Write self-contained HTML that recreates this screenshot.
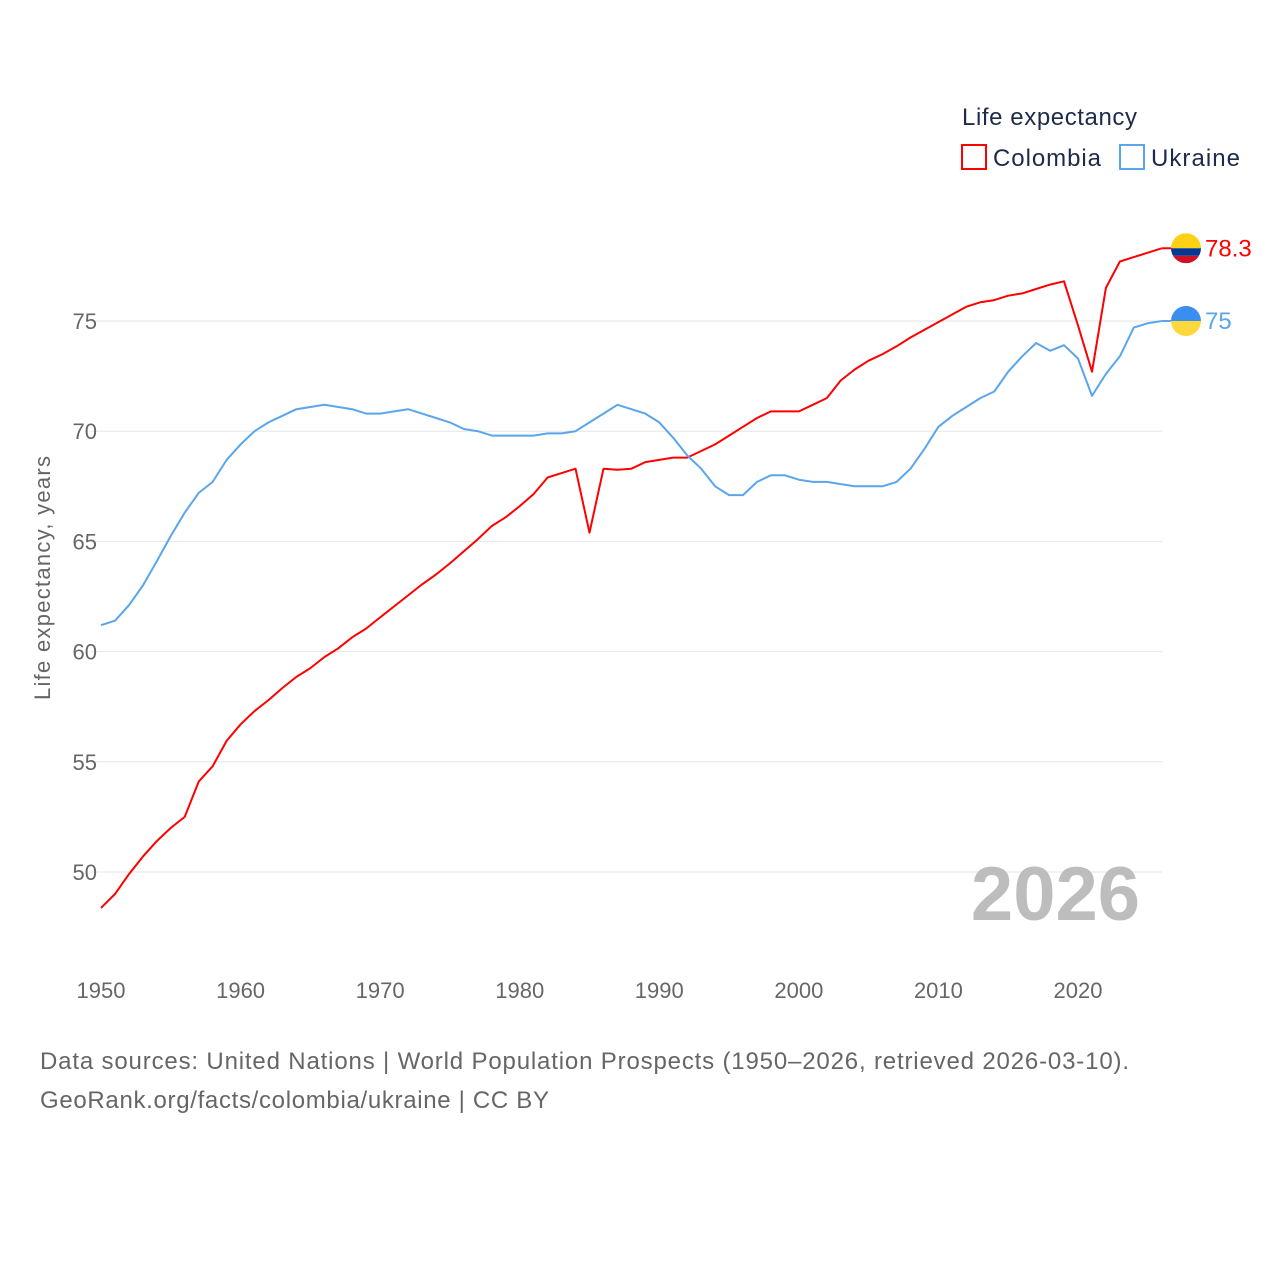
<!DOCTYPE html>
<html><head><meta charset="utf-8"><style>
body{margin:0;background:#fff;font-family:"Liberation Sans",sans-serif}
svg text{font-family:"Liberation Sans",sans-serif}
</style></head><body>
<svg id="chart" width="1280" height="1280" viewBox="0 0 1280 1280">
<g id="grid"></g>
<g id="yticks"></g>
<g id="xticks"></g>
<text x="50" y="578" transform="rotate(-90 50 578)" text-anchor="middle" font-size="22" fill="#666" textLength="244">Life expectancy, years</text>
<text x="1140" y="920" text-anchor="end" font-size="76" font-weight="bold" fill="#bdbdbd">2026</text>
<g>
<text x="962" y="125" font-size="24" fill="#1d2b4a" textLength="175">Life expectancy</text>
<g><rect x="962" y="145" width="24" height="24" fill="none" stroke="#ff0000" stroke-width="2"/><text x="993" y="166" font-size="24" fill="#1d2b4a" textLength="108">Colombia</text></g>
<g><rect x="1120" y="145" width="24" height="24" fill="none" stroke="#5aa5ec" stroke-width="2"/><text x="1151" y="166" font-size="24" fill="#1d2b4a" textLength="89">Ukraine</text></g>
</g>
<g id="series"></g>
<g id="ends"></g>
<text x="40" y="1069" font-size="24" fill="#666" textLength="1089">Data sources: United Nations | World Population Prospects (1950–2026, retrieved 2026-03-10).</text>
<text x="40" y="1108" font-size="24" fill="#666" textLength="509">GeoRank.org/facts/colombia/ukraine | CC BY</text>
</svg>
<script>
const years=[];for(let y=1950;y<=2026;y++)years.push(y);
const colombia=[48.37,49.0,49.9,50.7,51.4,52.0,52.5,54.1,54.8,55.95,56.7,57.3,57.8,58.35,58.85,59.25,59.75,60.15,60.65,61.05,61.55,62.05,62.55,63.05,63.5,64.0,64.55,65.1,65.7,66.1,66.6,67.15,67.9,68.1,68.3,65.4,68.3,68.25,68.3,68.6,68.7,68.8,68.8,69.1,69.4,69.8,70.2,70.6,70.9,70.9,70.9,71.2,71.5,72.3,72.8,73.2,73.5,73.85,74.25,74.6,74.95,75.3,75.65,75.85,75.95,76.15,76.25,76.45,76.65,76.8,74.8,72.7,76.5,77.7,77.9,78.1,78.3];
const ukraine=[61.2,61.4,62.1,63.0,64.1,65.25,66.3,67.2,67.7,68.7,69.4,70.0,70.4,70.7,71.0,71.1,71.2,71.1,71.0,70.8,70.8,70.9,71.0,70.8,70.6,70.4,70.1,70.0,69.8,69.8,69.8,69.8,69.9,69.9,70.0,70.4,70.8,71.2,71.0,70.8,70.4,69.7,68.9,68.3,67.5,67.1,67.1,67.7,68.0,68.0,67.8,67.7,67.7,67.6,67.5,67.5,67.5,67.7,68.3,69.2,70.2,70.7,71.1,71.5,71.8,72.7,73.4,74.0,73.65,73.9,73.3,71.6,72.6,73.4,74.7,74.9,75.0];
const yTicks=[50,55,60,65,70,75];
const xTicks=[1950,1960,1970,1980,1990,2000,2010,2020];
const endLabels=["78.3","75"];
const NS="http://www.w3.org/2000/svg";
const X=y=>101+(y-1950)*(977/70);
const Y=v=>321+(75-v)*22.04;
function el(t,a,p){const e=document.createElementNS(NS,t);for(const k in a)e.setAttribute(k,a[k]);p.appendChild(e);return e;}
const grid=document.getElementById('grid'),yt=document.getElementById('yticks'),xt=document.getElementById('xticks');
yTicks.forEach(v=>{
 const l=el('line',{x1:90,x2:1162,y1:Y(v),y2:Y(v),stroke:'#e6e6e6','stroke-width':1},grid);
 
 
 const t=el('text',{x:97,y:Y(v)+8,'text-anchor':'end','font-size':22,fill:'#666'},yt);t.textContent=v;
 
 
});
xTicks.forEach(v=>{
 const t=el('text',{x:X(v),y:998,'text-anchor':'middle','font-size':22,fill:'#666'},xt);t.textContent=v;
 
 
});
const s=document.getElementById('series');
[[colombia,'#ff0000','colombia'],[ukraine,'#5aa5ec','ukraine']].forEach(([d,c,n])=>{
 const p=el('path',{d:d.map((v,i)=>(i?'L':'M')+X(years[i]).toFixed(1)+','+Y(v).toFixed(1)).join(''),fill:'none',stroke:c,'stroke-width':2,'stroke-linejoin':'round'},s);
 
 
});
const ends=document.getElementById('ends');
const last=years.length-1;
function flag(cy,cols,name){
 const g=el('g',{},ends);
 
 
 const cx=1186,r=15;
 const clip=el('clipPath',{id:'c'+name},g);
 el('circle',{cx:cx,cy:cy,r:r},clip);
 let y0=cy-r;cols.forEach(([col,h])=>{el('rect',{x:cx-r,y:y0,width:2*r,height:h*2*r,fill:col,'clip-path':'url(#c'+name+')'},g);y0+=h*2*r;});
}
const cy1=Y(colombia[last]),cy2=Y(ukraine[last]);
el('line',{x1:X(2026),x2:1172,y1:cy1,y2:cy1,stroke:'#ff0000','stroke-width':2},ends);
el('line',{x1:X(2026),x2:1172,y1:cy2,y2:cy2,stroke:'#5aa5ec','stroke-width':2},ends);
flag(cy1,[['#fcd116',0.5],['#003893',0.25],['#ce1126',0.25]],'flag-colombia');
flag(cy2,[['#3a8ef0',0.5],['#ffd83d',0.5]],'flag-ukraine');
const t1=el('text',{x:1205,y:cy1+8,'font-size':24,fill:'#ff0000'},ends);t1.textContent=endLabels[0];


const t2=el('text',{x:1205,y:cy2+8,'font-size':24,fill:'#5aa5ec'},ends);t2.textContent=endLabels[1];


</script>
</body></html>
